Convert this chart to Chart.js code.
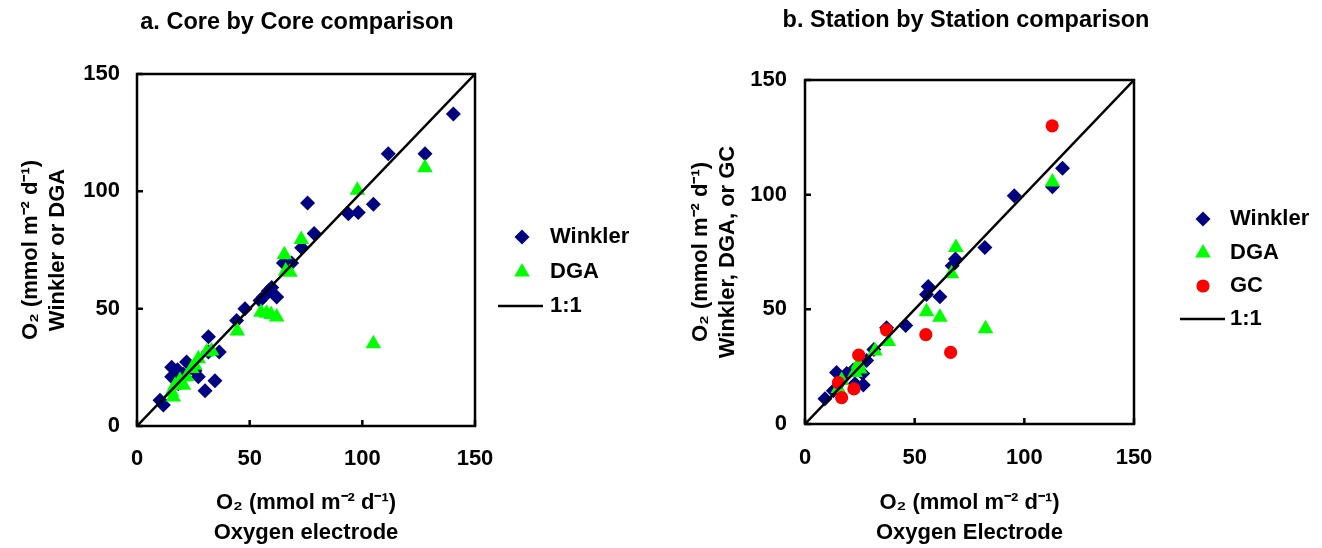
<!DOCTYPE html>
<html>
<head>
<meta charset="utf-8">
<script src="https://cdn.jsdelivr.net/npm/chart.js@4/dist/chart.umd.min.js"></script>
<style>
  html, body { margin: 0; padding: 0; background: #fff; }
  #wrap { position: relative; width: 1322px; height: 548px; }
  canvas { position: absolute; top: 0; }
  #coreChart { left: 0; }
  #stationChart { left: 660px; }
</style>
</head>
<body>
<div id="wrap">
  <canvas id="coreChart" width="660" height="548"></canvas>
  <canvas id="stationChart" width="662" height="548"></canvas>
</div>
<script>
// shared axis ticks (both axes, both panels)
const axisTicks = [0, 50, 100, 150];
const seriesNames = ['Winkler', 'DGA', 'GC', '1:1'];

// panel a: core by core, [oxygen electrode, other method]
const coreWinkler = [
    [140.4, 133], [111.5, 116], [127.8, 116], [75.7, 95], [93.8, 90.5], [98.2, 91],
    [104.9, 94.5], [78.6, 82], [73.1, 76], [65, 69.5], [68.6, 69.5], [59.8, 59],
    [58.3, 57.5], [56.1, 55], [62, 55], [54.6, 53.5], [47.9, 50], [44.2, 45],
    [31.7, 38], [36.5, 31.5], [34.6, 19.3], [30.2, 15], [27.2, 21], [25.7, 23.5],
    [22, 27.3], [15.4, 25], [15.4, 21], [18, 24], [10.2, 11], [11.7, 9],
    [18.3, 18], [31.7, 31.5], [20.6, 22]
];
const coreDGA = [
    [127.8, 110], [97.8, 100.5], [72.9, 79.5], [65.4, 73], [66, 66], [67.9, 65.5],
    [55, 48.5], [57.5, 48], [59.5, 47.5], [62, 46.5], [44.5, 40.5], [104.9, 35],
    [33.1, 32], [30.9, 31.5], [27.2, 28.7], [25.7, 25.9], [24.3, 24.5], [22, 21],
    [19.1, 19.5], [16.9, 17.4], [15.4, 14.5], [16.1, 12.4], [20.6, 17.4]
];

// panel b: station by station
const stationWinkler = [
    [117.4, 111.5], [112.8, 103.5], [95.4, 99.5], [82, 77], [68.6, 72], [67.1, 69],
    [56.2, 60], [55.4, 56.5], [61.5, 55.5], [45.9, 43], [37.2, 42], [31.4, 32.5],
    [28.1, 27.7], [26.3, 22], [22, 23.5], [14.4, 22.5], [19, 22], [22.8, 17.5],
    [9.1, 11], [12.9, 14.5], [26.6, 17]
];
const stationDGA = [
    [112.8, 105.5], [68.8, 77], [66.8, 65.5], [55.4, 49], [61.5, 46.5], [82.3, 41.5],
    [38, 36], [31.9, 31.8], [24.3, 26], [22.8, 22.5], [16.7, 19], [15.2, 15.5], [25, 24]
];
const stationGC = [
    [112.7, 130], [37.2, 41], [55.1, 39], [66.4, 31.2], [24.5, 30], [15.2, 18],
    [22.3, 15.3], [16.7, 11.5]
];

const FONT = '"Liberation Sans", Arial, Helvetica, sans-serif';
const O2_UNITS = 'O\u2082 (mmol m\u207B\u00B2 d\u207B\u00B9)';

const toPoints = arr => arr.map(([x, y]) => ({ x, y }));

function drawMarker(ctx, style, r, x, y) {
    ctx.beginPath();
    if (style === 'rectRot') {
        ctx.moveTo(x, y - r); ctx.lineTo(x + r, y); ctx.lineTo(x, y + r); ctx.lineTo(x - r, y);
    } else if (style === 'triangle') {
        ctx.moveTo(x, y - r);
        ctx.lineTo(x + r * Math.sqrt(3) / 2, y + r / 2);
        ctx.lineTo(x - r * Math.sqrt(3) / 2, y + r / 2);
    } else {
        ctx.arc(x, y, r, 0, Math.PI * 2);
    }
    ctx.closePath();
    ctx.fill();
}

// frame, inward tick marks, panel title and the legend
const panelPlugin = {
    id: 'panel',
    afterDraw(chart, args, opts) {
        const { ctx, chartArea: area } = chart;
        const { x, y } = chart.scales;
        ctx.save();
        ctx.strokeStyle = '#000';
        ctx.lineWidth = 2.5;
        ctx.strokeRect(area.left, area.top, area.width, area.height);
        ctx.beginPath();
        x.ticks.forEach(t => {
            const px = x.getPixelForValue(t.value);
            ctx.moveTo(px, area.bottom);
            ctx.lineTo(px, area.bottom - 6);
        });
        y.ticks.forEach(t => {
            const py = y.getPixelForValue(t.value);
            ctx.moveTo(area.left, py);
            ctx.lineTo(area.left + 6, py);
        });
        ctx.stroke();

        ctx.fillStyle = '#000';
        ctx.font = `bold 23.5px ${FONT}`;
        ctx.textAlign = 'center';
        ctx.textBaseline = 'middle';
        ctx.fillText(opts.title, opts.titleX, opts.titleY);

        const lg = opts.legend;
        ctx.font = `bold 22px ${FONT}`;
        ctx.textAlign = 'left';
        chart.data.datasets.forEach((ds, i) => {
            const ly = lg.rows[i];
            if (ds.type === 'line') {
                ctx.strokeStyle = ds.borderColor;
                ctx.lineWidth = ds.borderWidth;
                ctx.beginPath();
                ctx.moveTo(lg.lineX1, ly);
                ctx.lineTo(lg.lineX2, ly);
                ctx.stroke();
            } else {
                ctx.fillStyle = ds.backgroundColor;
                drawMarker(ctx, ds.pointStyle, ds.pointRadius, lg.markerX, ly);
            }
            ctx.fillStyle = '#000';
            ctx.fillText(ds.label, lg.textX, ly);
        });
        ctx.restore();
    }
};

function pointSet(label, data, style, radius, color, order) {
    return {
        type: 'scatter', label, data: toPoints(data), order,
        pointStyle: style, pointRadius: radius, pointHoverRadius: radius,
        backgroundColor: color, borderColor: color, pointBorderWidth: 0, borderWidth: 0
    };
}

function oneToOne() {
    return {
        type: 'line', label: seriesNames[3], order: 0,
        data: [{ x: axisTicks[0], y: axisTicks[0] }, { x: axisTicks[3], y: axisTicks[3] }],
        borderColor: '#000', borderWidth: 2.5, pointRadius: 0, fill: false
    };
}

function makeScales(cfg) {
    const tickFont = { family: FONT, size: 22, weight: 'bold', lineHeight: 1.2 };
    const common = {
        type: 'linear', min: axisTicks[0], max: axisTicks[axisTicks.length - 1],
        grid: { display: false, drawTicks: false }, border: { display: false },
        afterBuildTicks: axis => { axis.ticks = axisTicks.map(v => ({ value: v })); }
    };
    return {
        x: {
            ...common,
            ticks: { color: '#000', font: tickFont, padding: cfg.xTickPad, maxRotation: 0 },
            title: {
                display: true, text: [O2_UNITS, cfg.xTitle], color: '#000',
                font: { family: FONT, size: 22, weight: 'bold', lineHeight: 30 / 22 },
                padding: { top: 0, bottom: 0 }
            },
            afterFit: s => { s.height = cfg.xHeight; }
        },
        y: {
            ...common,
            ticks: { color: '#000', font: tickFont, padding: cfg.yTickPad },
            title: {
                display: true, text: [O2_UNITS, cfg.yTitle], color: '#000',
                font: { family: FONT, size: 22, weight: 'bold', lineHeight: 27 / 22 },
                padding: { top: cfg.yTitlePad, bottom: 0 }
            },
            afterFit: s => { s.width = cfg.yWidth; }
        }
    };
}

function makeChart(id, datasets, cfg) {
    return new Chart(document.getElementById(id), {
        data: { datasets },
        options: {
            responsive: false,
            animation: false,
            layout: { padding: { left: 0, top: cfg.top, right: cfg.right, bottom: 0 } },
            scales: makeScales(cfg),
            plugins: {
                legend: { display: false },
                tooltip: { enabled: false },
                panel: { title: cfg.title, titleX: cfg.titleX, titleY: cfg.titleY, legend: cfg.legend }
            }
        },
        plugins: [panelPlugin]
    });
}

makeChart('coreChart', [
    pointSet(seriesNames[0], coreWinkler, 'rectRot', 7.5, '#000080', 3),
    pointSet(seriesNames[1], coreDGA, 'triangle', 9, '#00FF00', 2),
    oneToOne()
], {
    title: 'a. Core by Core comparison', titleX: 297, titleY: 23,
    top: 74, right: 185, xHeight: 122, yWidth: 137,
    xTickPad: 20, yTickPad: 17, yTitlePad: 17.5,
    xTitle: 'Oxygen electrode', yTitle: 'Winkler or DGA',
    legend: { markerX: 522, lineX1: 498, lineX2: 543, textX: 550, rows: [237, 272, 306] }
});

makeChart('stationChart', [
    pointSet(seriesNames[0], stationWinkler, 'rectRot', 7.5, '#000080', 3),
    pointSet(seriesNames[1], stationDGA, 'triangle', 9, '#00FF00', 2),
    pointSet(seriesNames[2], stationGC, 'circle', 6.6, '#FF0000', 1),
    oneToOne()
], {
    title: 'b. Station by Station comparison', titleX: 306, titleY: 21,
    top: 80, right: 188, xHeight: 124, yWidth: 145,
    xTickPad: 21, yTickPad: 18, yTitlePad: 27,
    xTitle: 'Oxygen Electrode', yTitle: 'Winkler, DGA, or GC',
    legend: { markerX: 543, lineX1: 520, lineX2: 565, textX: 570, rows: [219, 253, 286, 319] }
});
</script>
</body>
</html>
